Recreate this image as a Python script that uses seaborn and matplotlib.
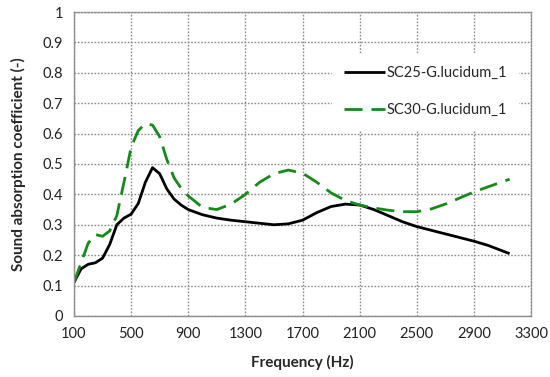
import pandas as pd
import matplotlib
matplotlib.use("Agg")
import matplotlib.pyplot as plt
import seaborn as sns

# data
freq = [100, 150, 200, 250, 300, 350, 400, 450, 500, 550, 600, 650, 700, 750, 800,
        850, 900, 1000, 1100, 1200, 1300, 1400, 1500, 1600, 1700, 1800, 1900, 2000,
        2100, 2200, 2300, 2400, 2500, 2600, 2700, 2800, 2900, 3000, 3150]
sc25 = [0.11, 0.155, 0.17, 0.175, 0.19, 0.235, 0.3, 0.322, 0.335, 0.37, 0.44, 0.488,
        0.468, 0.418, 0.385, 0.365, 0.35, 0.333, 0.322, 0.315, 0.31, 0.305, 0.30, 0.303,
        0.315, 0.34, 0.36, 0.368, 0.365, 0.35, 0.33, 0.31, 0.294, 0.282, 0.27, 0.258,
        0.246, 0.232, 0.205]
sc30 = [0.11, 0.175, 0.24, 0.268, 0.262, 0.28, 0.33, 0.44, 0.555, 0.61, 0.633, 0.628,
        0.59, 0.515, 0.455, 0.42, 0.395, 0.357, 0.35, 0.368, 0.40, 0.44, 0.468, 0.48, 0.47,
        0.44, 0.405, 0.38, 0.365, 0.355, 0.348, 0.343, 0.343, 0.352, 0.368, 0.388,
        0.408, 0.425, 0.45]
labels = ["SC25-G.lucidum_1", "SC30-G.lucidum_1"]

df = pd.concat([
    pd.DataFrame({"Frequency": freq, "alpha": sc25, "Sample": labels[0]}),
    pd.DataFrame({"Frequency": freq, "alpha": sc30, "Sample": labels[1]}),
])

sns.set_style("white")
plt.rcParams["font.family"] = ["Lato", "DejaVu Sans"]

fig = plt.figure(figsize=(5.5, 3.77), dpi=100)
ax = fig.add_axes([0.1345, 0.162, 0.831, 0.806])

sns.lineplot(data=df, x="Frequency", y="alpha", hue="Sample", style="Sample",
             palette=["black", "#15891A"], dashes=[(1, 0), (6.5, 3.2)],
             linewidth=2, ax=ax, legend=True)

ax.set_xlim(100, 3300)
ax.set_ylim(0, 1)
ax.set_xticks(range(100, 3301, 400))
ax.set_yticks([i / 10 for i in range(11)])
ax.set_yticklabels(["0", "0.1", "0.2", "0.3", "0.4", "0.5", "0.6", "0.7", "0.8", "0.9", "1"])
ax.tick_params(axis="both", labelsize=10.5, length=0, pad=8, colors="#222222")

ax.grid(True, linestyle=(0, (1.2, 1.2)), color="#8c8c8c", linewidth=1)
for s in ["left", "bottom"]:
    ax.spines[s].set_color("#8c8c8c")
    ax.spines[s].set_linewidth(1)
for s in ["top", "right"]:
    ax.spines[s].set_linestyle((0, (1.2, 1.2)))
    ax.spines[s].set_color("#8c8c8c")
    ax.spines[s].set_linewidth(1)

ax.set_xlabel("Frequency (Hz)", fontsize=11, fontweight="bold", labelpad=10)
ax.set_ylabel("Sound absorption coefficient (-)", fontsize=11, fontweight="bold", labelpad=12)

leg = ax.legend(title=None, loc="upper left", bbox_to_anchor=(0.549, 0.886),
                frameon=True, fontsize=10.5, handlelength=2.8, handletextpad=0.1,
                labelspacing=1.6, borderpad=0.8)
leg.get_frame().set_edgecolor("white")
leg.get_frame().set_facecolor("white")
leg.get_frame().set_alpha(1)
leg.get_frame().set_boxstyle("square", pad=0)

fig.savefig("out.png", dpi=100)
